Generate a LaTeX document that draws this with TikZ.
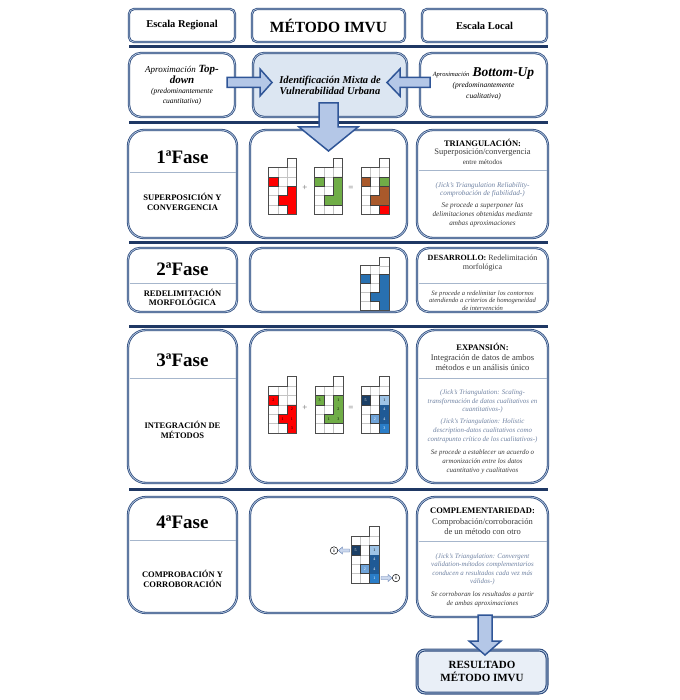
\documentclass[tikz,border=0pt]{standalone}
\usepackage{fontspec}
\setmainfont{Liberation Serif}
\usetikzlibrary{calc}
\definecolor{navy}{HTML}{1F3864}
\definecolor{bnavy}{HTML}{2F4C7E}
\definecolor{blight}{HTML}{B8CCE4}
\definecolor{mfill}{HTML}{DCE6F2}
\definecolor{rfill}{HTML}{E9EFF7}
\definecolor{afill}{HTML}{B4C7E7}
\definecolor{aedge}{HTML}{2F5597}
\definecolor{divc}{HTML}{A6B6CC}
\definecolor{jick}{HTML}{7083A3}
\definecolor{setx}{HTML}{3A3A3A}
\definecolor{gridc}{HTML}{C4C4C4}
\definecolor{cred}{HTML}{FF0000}
\definecolor{cgreen}{HTML}{70AD47}
\definecolor{cbrown}{HTML}{A9592B}
\definecolor{cblue}{HTML}{2870B0}
\definecolor{bnav}{HTML}{1B3F66}
\definecolor{blt}{HTML}{9DC3E6}
\definecolor{bdk}{HTML}{1F5A96}
\definecolor{bmd}{HTML}{2A7DC8}
\definecolor{bml}{HTML}{6FA3D8}
\newcommand\fs[2]{\fontsize{#1}{#2}\selectfont}
\newcommand\fcell[5]{\fill[#3] (#1,#2) rectangle ++(1,1);
  \node[font=\fs{4}{4}, text=#4, inner sep=0pt] at (#1+0.5,#2+0.5) {#5};}
\newcommand\gframe{%
  \fill[white] (0,0) rectangle (3,5);
  \fill[white] (2,-1) rectangle (3,0);
  \foreach \k in {1,2}{\draw[gl] (\k,0) -- (\k,5);}
  \foreach \k in {1,...,4}{\draw[gl] (0,\k) -- (3,\k);}
  \draw[gl] (2,0) -- (3,0);}
\newcommand\gout{\draw[go] (0,0) -- (2,0) -- (2,-1) -- (3,-1) -- (3,5) -- (0,5) -- cycle;}
\tikzset{
 bx/.style={draw=bnavy, line width=0.8pt, double=blight, double distance=0.7pt, rounded corners=#1, inner sep=0pt, fill=white},
 tx/.style={inner sep=0pt, align=center, text=black},
 sepl/.style={draw=navy, line width=3pt},
 dv/.style={draw=divc, line width=0.8pt},
 barrow/.style={fill=afill, draw=aedge, line width=1.5pt, line join=miter},
 gl/.style={draw=gridc, line width=0.4pt},
 go/.style={draw=black!70, line width=0.6pt},
 so/.style={draw=black!75, line width=0.5pt},
 fase/.style={tx, font=\bfseries\fs{19}{20}},
 lcap/.style={tx, font=\bfseries\fs{8.5}{10}},
 rbold/.style={tx, font=\bfseries\fs{8.5}{10}},
 rreg/.style={tx, font=\fs{8.5}{10}, text=setx},
 jk/.style={tx, font=\itshape\fs{7.2}{8.5}, text=jick},
 se/.style={tx, font=\itshape\fs{7.2}{9}, text=setx},
 ii/.style={circle, draw=black, fill=white, line width=0.5pt, inner sep=0pt, minimum size=7.5pt, font=\bfseries\fs{5}{5}},
 sarrow/.style={fill=afill!70, draw=aedge!80, line width=0.4pt},
}
\begin{document}
\begin{tikzpicture}[x=1pt,y=-1pt]
\useasboundingbox (0,0) rectangle (679,700);
\fill[white] (0,0) rectangle (679,700);

% header
\node[bx=5pt, minimum width=106pt, minimum height=33pt] (b1) at (182,25.5) {};
\node[bx=5pt, minimum width=153pt, minimum height=33pt] (b2) at (328.5,25.5) {};
\node[bx=5pt, minimum width=125pt, minimum height=33pt] (b3) at (484.5,25.5) {};
\node[tx, font=\bfseries\fs{10.5}{12}] (h1) at (b1) {Escala Regional};
\node[tx, font=\bfseries\fs{15.5}{17}] (h2) at (b2) {MÉTODO IMVU};
\node[tx, font=\bfseries\fs{10.5}{12}] (h3) at (b3) {Escala Local};

% separators
\draw[sepl] (129,47) -- (548,47);
\draw[sepl] (129,123) -- (548,123);
\draw[sepl] (129,243) -- (548,243);
\draw[sepl] (129,326) -- (548,326);
\draw[sepl] (129,489) -- (548,489);

% row 2
\node[bx=12pt, minimum width=106pt, minimum height=64pt] (r2l) at (182,85) {};
\node[bx=11pt, minimum width=154pt, minimum height=64pt, fill=mfill] (r2m) at (330,85) {};
\node[bx=12pt, minimum width=127pt, minimum height=64pt] (r2r) at (483.5,85) {};
\node[tx, font=\bfseries\itshape\fs{11}{11.5}] (tl1) at (182,74.5) {{\mdseries\fs{9}{11.5}Aproximación} Top-\\down};
\node[tx, font=\itshape\fs{7.5}{10}] (tl2) at (182,96.5) {(predominantemente\\cuantitativa)};
\node[tx, font=\bfseries\itshape\fs{10.5}{11}] (tm) at (330,85.5) {Identificación Mixta de\\Vulnerabilidad Urbana};
\node[tx, font=\bfseries\itshape\fs{13.5}{14}] (tr1) at (483.5,73.5) {{\mdseries\fs{6.5}{10}Aproximación} Bottom-Up};
\node[tx, font=\itshape\fs{7.5}{11.5}] (tr2) at (483.5,91) {(predominantemente\\cualitativa)};

% phase boxes
\node[bx=16pt, minimum width=109pt, minimum height=108pt] (p1l) at (182.5,184) {};
\node[bx=16pt, minimum width=157pt, minimum height=108pt] (p1m) at (328.5,184) {};
\node[bx=16pt, minimum width=131pt, minimum height=108pt] (p1r) at (482.5,184) {};
\node[bx=12pt, minimum width=109pt, minimum height=64pt] (p2l) at (182.5,280) {};
\node[bx=12pt, minimum width=157pt, minimum height=64pt] (p2m) at (328.5,280) {};
\node[bx=12pt, minimum width=131pt, minimum height=64pt] (p2r) at (482.5,280) {};
\node[bx=18pt, minimum width=109pt, minimum height=153pt] (p3l) at (182.5,406.5) {};
\node[bx=18pt, minimum width=157pt, minimum height=153pt] (p3m) at (328.5,406.5) {};
\node[bx=18pt, minimum width=131pt, minimum height=153pt] (p3r) at (482.5,406.5) {};
\node[bx=18pt, minimum width=109pt, minimum height=116pt] (p4l) at (182.5,555) {};
\node[bx=18pt, minimum width=157pt, minimum height=116pt] (p4m) at (328.5,555) {};
\node[bx=18pt, minimum width=131pt, minimum height=120pt] (p4r) at (482.5,557) {};

% dividers
\draw[dv] (129.5,172) -- (235.5,172);
\draw[dv] (418.5,170) -- (546.5,170);
\draw[dv] (129.5,283) -- (235.5,283);
\draw[dv] (418.5,283) -- (546.5,283);
\draw[dv] (129.5,378) -- (235.5,378);
\draw[dv] (418.5,378) -- (546.5,378);
\draw[dv] (129.5,540) -- (235.5,540);
\draw[dv] (418.5,541) -- (546.5,541);

% left texts
\node[fase] (f1) at (182.5,157) {1ªFase};
\node[lcap] (l1) at (182.5,202) {SUPERPOSICIÓN Y\\CONVERGENCIA};
\node[fase] (f2) at (182.5,269.5) {2ªFase};
\node[lcap, font=\bfseries\fs{8.5}{9.5}] (l2) at (182.5,297.5) {REDELIMITACIÓN\\MORFOLÓGICA};
\node[fase] (f3) at (182.5,360) {3ªFase};
\node[lcap] (l3) at (182.5,430) {INTEGRACIÓN DE\\MÉTODOS};
\node[fase] (f4) at (182.5,522) {4ªFase};
\node[lcap] (l4) at (182.5,579) {COMPROBACIÓN Y\\CORROBORACIÓN};

% right texts phase 1
\node[rbold] (r1a) at (482.5,143) {TRIANGULACIÓN:};
\node[rreg] (r1b) at (482.5,152.5) {Superposición/convergencia};
\node[rreg, font=\fs{7}{8}] (r1c) at (482.5,162) {entre métodos};
\node[jk] (r1d) at (482.5,190) {(Jick's Triangulation Reliability-\\comprobación de fiabilidad-)};
\node[se] (r1e) at (482.5,215) {Se procede a superponer las\\delimitaciones obtenidas mediante\\ambas aproximaciones};
% phase 2
\node[rreg, font=\fs{8}{9}] (r2a) at (482.5,263.5) {{\bfseries\color{black}DESARROLLO:} Redelimitación\\morfológica};
\node[se, font=\itshape\fs{6.6}{7.6}] (r2b) at (482.5,300.5) {Se procede a redelimitar los contornos\\atendiendo a criterios de homogeneidad\\de intervención};
% phase 3
\node[rbold] (r3a) at (482.5,347) {EXPANSIÓN:};
\node[rreg, font=\fs{8.5}{10}] (r3b) at (482.5,363) {Integración de datos de ambos\\métodos e un análisis único};
\node[jk, font=\itshape\fs{6.9}{8.5}] (r3c) at (482.5,401.5) {(Jick's Triangulation: Scaling-\\transformación de datos cualitativos en\\cuantitativos-)};
\node[jk, font=\itshape\fs{6.9}{9}] (r3d) at (482.5,431) {(Jick's Triangulation: Holistic\\description-datos cualitativos como\\contrapunto crítico de los cualitativos-)};
\node[se, font=\itshape\fs{6.9}{9}] (r3e) at (482.5,462) {Se procede a establecer un acuerdo o\\armonización entre los datos\\cuantitativo y cualitativos};
% phase 4
\node[rbold] (r4a) at (482.5,511) {COMPLEMENTARIEDAD:};
\node[rreg] (r4b) at (482.5,527) {Comprobación/corroboración\\de un método con otro};
\node[jk, font=\itshape\fs{6.9}{8.4}] (r4c) at (482.5,569.5) {(Jick's Triangulation: Convergent\\validation-métodos complementarios\\conducen a resultados cada vez más\\válidos-)};
\node[se, font=\itshape\fs{6.9}{9}] (r4d) at (482.5,599.5) {Se corroboran los resultados a partir\\de ambas aproximaciones};

% result
\node[bx=8pt, line width=1.1pt, double distance=0.8pt, fill=rfill, minimum width=130pt, minimum height=43pt] (res) at (482,671.5) {};
\node[tx, font=\bfseries\fs{11}{13}] (rest) at (res) {RESULTADO\\MÉTODO IMVU};

% block arrows
\draw[barrow] (227,77.5) -- (260,77.5) -- (260,69) -- (272,82.5) -- (260,96) -- (260,87.5) -- (227,87.5) -- cycle;
\draw[barrow] (430,77.5) -- (400,77.5) -- (400,69) -- (387,82.5) -- (400,96) -- (400,87.5) -- (430,87.5) -- cycle;
\draw[barrow] (319,103) -- (338,103) -- (338,127) -- (358,127) -- (328.5,151) -- (299,127) -- (319,127) -- cycle;
\draw[barrow] (478,615) -- (492,615) -- (492,641) -- (501,641) -- (485,655) -- (469,641) -- (478,641) -- cycle;

% phase 1 grids
\begin{scope}[shift={(268.7,167.7)}, x=9.3pt, y=-9.3pt]
 \gframe
 \fill[cred] (0,1) rectangle (1,2); \draw[so] (0,1) rectangle (1,2);
 \fill[cred] (2,2) -- (3,2) -- (3,5) -- (2,5) -- (2,4) -- (1,4) -- (1,3) -- (2,3) -- cycle;
 \draw[so] (2,2) -- (3,2) -- (3,5) -- (2,5) -- (2,4) -- (1,4) -- (1,3) -- (2,3) -- cycle;
 \gout
\end{scope}
\node[tx, font=\fs{9}{9}, text=black!60] (pl1) at (305,188) {+};
\begin{scope}[shift={(314.7,167.7)}, x=9.3pt, y=-9.3pt]
 \gframe
 \fill[cgreen] (0,1) rectangle (1,2); \draw[so] (0,1) rectangle (1,2);
 \fill[cgreen] (2,1) -- (3,1) -- (3,4) -- (1,4) -- (1,3) -- (2,3) -- cycle;
 \draw[so] (2,1) -- (3,1) -- (3,4) -- (1,4) -- (1,3) -- (2,3) -- cycle;
 \gout
\end{scope}
\node[tx, font=\fs{9}{9}, text=black!60] (eq1) at (351,188) {=};
\begin{scope}[shift={(361,167.7)}, x=9.3pt, y=-9.3pt]
 \gframe
 \fill[cbrown] (0,1) rectangle (1,2); \draw[so] (0,1) rectangle (1,2);
 \fill[cgreen] (2,1) rectangle (3,2); \draw[so] (2,1) rectangle (3,2);
 \fill[cbrown] (2,2) -- (3,2) -- (3,4) -- (1,4) -- (1,3) -- (2,3) -- cycle;
 \draw[so] (2,2) -- (3,2) -- (3,4) -- (1,4) -- (1,3) -- (2,3) -- cycle;
 \fill[cred] (2,4) rectangle (3,5); \draw[so] (2,4) rectangle (3,5);
 \gout
\end{scope}

% phase 2 grid
\begin{scope}[shift={(360.7,265.7)}, x=9.4pt, y=-8.9pt]
 \gframe
 \fill[cblue] (0,1) rectangle (1,2); \draw[so] (0,1) rectangle (1,2);
 \fill[cblue] (2,1) -- (3,1) -- (3,5) -- (2,5) -- (2,4) -- (1,4) -- (1,3) -- (2,3) -- cycle;
 \draw[so] (2,1) -- (3,1) -- (3,5) -- (2,5) -- (2,4) -- (1,4) -- (1,3) -- (2,3) -- cycle;
 \gout
\end{scope}

% phase 3 grids
\begin{scope}[shift={(268.7,386)}, x=9.3pt, y=-9.4pt]
 \gframe
 \fcell{0}{1}{cred}{black}{2} \draw[so] (0,1) rectangle (1,2);
 \fill[cred] (2,2) -- (3,2) -- (3,5) -- (2,5) -- (2,4) -- (1,4) -- (1,3) -- (2,3) -- cycle;
 \fcell{2}{2}{cred}{black}{2}
 \fcell{2}{3}{cred}{black}{1}
 \fcell{2}{4}{cred}{black}{3}
 \fcell{1}{3}{cred}{black}{1}
 \draw[so] (2,2) -- (3,2) -- (3,5) -- (2,5) -- (2,4) -- (1,4) -- (1,3) -- (2,3) -- cycle;
 \gout
\end{scope}
\node[tx, font=\fs{9}{9}, text=black!60] (pl3) at (305,408) {+};
\begin{scope}[shift={(315,386)}, x=9.3pt, y=-9.4pt]
 \gframe
 \fcell{0}{1}{cgreen}{black}{3} \draw[so] (0,1) rectangle (1,2);
 \fcell{2}{1}{cgreen}{black}{1}
 \fcell{2}{2}{cgreen}{black}{2}
 \fcell{2}{3}{cgreen}{black}{3}
 \fcell{1}{3}{cgreen}{black}{1}
 \draw[so] (2,1) -- (3,1) -- (3,4) -- (1,4) -- (1,3) -- (2,3) -- cycle;
 \gout
\end{scope}
\node[tx, font=\fs{9}{9}, text=black!60] (eq3) at (351,408) {=};
\begin{scope}[shift={(361,386)}, x=9.3pt, y=-9.4pt]
 \gframe
 \fcell{0}{1}{bnav}{white}{5}
 \fcell{2}{1}{blt}{black}{1}
 \fcell{2}{2}{bdk}{white}{4}
 \fcell{2}{3}{bdk}{white}{4}
 \fcell{2}{4}{bmd}{white}{3}
 \fcell{1}{3}{bml}{white}{2}
 \draw[so] (0,1) rectangle (1,2);
 \draw[so] (2,1) rectangle (3,5);
 \draw[so] (1,3) rectangle (2,4);
 \gout
\end{scope}

% phase 4 grid
\begin{scope}[shift={(351,536)}, x=9.3pt, y=-9.4pt]
 \gframe
 \fcell{0}{1}{bnav}{white}{5}
 \fcell{2}{1}{blt}{black}{1}
 \fcell{2}{2}{bdk}{white}{4}
 \fcell{2}{3}{bdk}{white}{4}
 \fcell{2}{4}{bmd}{white}{1}
 \fcell{1}{3}{bml}{white}{2}
 \draw[so] (0,1) rectangle (1,2);
 \draw[so] (2,1) rectangle (3,5);
 \draw[so] (1,3) rectangle (2,4);
 \gout
\end{scope}
\node[ii] (i1) at (334,550.5) {i};
\node[ii] (i2) at (396,578) {i};
\draw[sarrow] (349.5,549) -- (342.5,549) -- (342.5,547) -- (338.5,550.5) -- (342.5,554) -- (342.5,552) -- (349.5,552) -- cycle;
\draw[sarrow] (381,576.5) -- (388,576.5) -- (388,574.5) -- (392,578) -- (388,581.5) -- (388,579.5) -- (381,579.5) -- cycle;
\end{tikzpicture}
\end{document}
